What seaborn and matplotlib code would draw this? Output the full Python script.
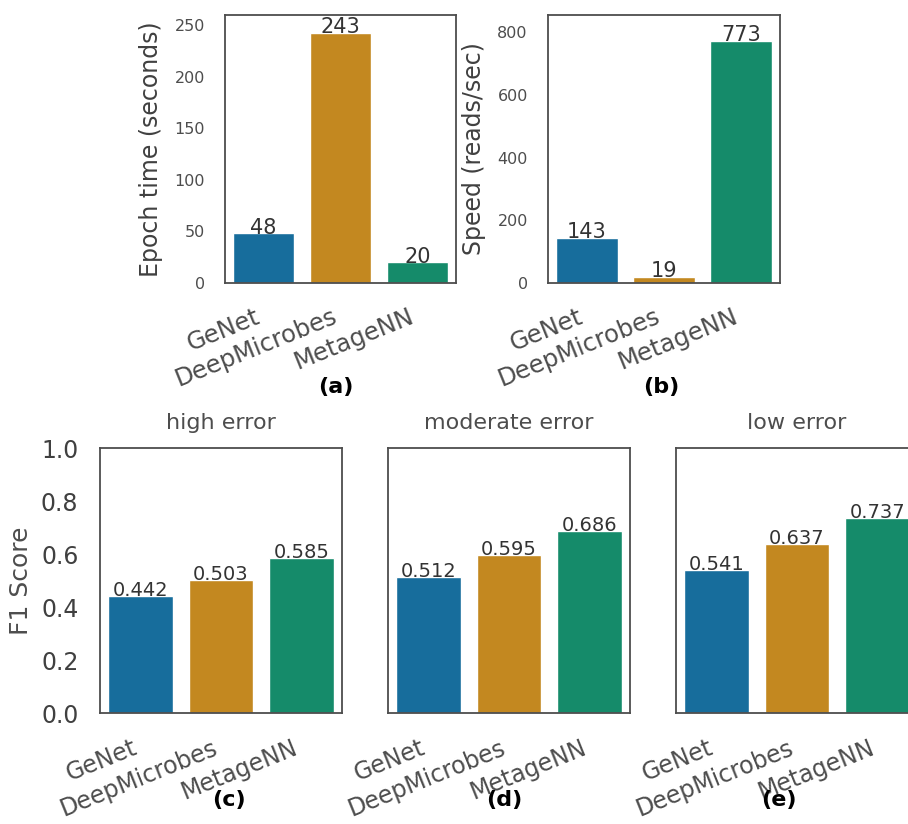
import matplotlib
matplotlib.use("Agg")
import matplotlib.pyplot as plt
import seaborn as sb
import pandas as pd

# DATA #
models = ["GeNet", "DeepMicrobes", "MetageNN"]
epoch_time = [48, 243, 20]
speed = [143, 19, 773]
f1_high = [0.442, 0.503, 0.585]
f1_moderate = [0.512, 0.595, 0.686]
f1_low = [0.541, 0.637, 0.737]
error_titles = ["high error", "moderate error", "low error"]
panel_labels = ["(a)", "(b)", "(c)", "(d)", "(e)"]

sb.set_style("white")
plt.rcParams["font.family"] = ["DejaVu Sans"]
palette = sb.color_palette("colorblind", 3)

fig = plt.figure(figsize=(9.08, 8.24), dpi=100)

# axes placement in figure fractions #
top_axes = [
    fig.add_axes([0.2478, 0.6566, 0.2544, 0.3252]),
    fig.add_axes([0.6035, 0.6566, 0.2555, 0.3252]),
]
bot_axes = [
    fig.add_axes([0.1101, 0.1347, 0.2665, 0.3216]),
]
bot_axes.append(fig.add_axes([0.4273, 0.1347, 0.2665, 0.3216], sharey=bot_axes[0]))
bot_axes.append(fig.add_axes([0.7445, 0.1347, 0.2665, 0.3216], sharey=bot_axes[0]))


def draw_bars(ax, values, fmt, label_size):
    df = pd.DataFrame({"Model": models, "Value": values})
    sb.barplot(x="Model", y="Value", hue="Model", data=df, palette=palette,
               legend=False, ax=ax)
    for c in ax.containers:
        ax.bar_label(c, fmt=fmt, padding=-3, fontsize=label_size, color=".2")
    for s in ax.spines.values():
        s.set_color(".3")
        s.set_linewidth(1.3)
    plt.setp(ax.get_xticklabels(), rotation=22, ha="right")


# TOP ROW #
top_data = [epoch_time, speed]
top_ylabels = ["Epoch time (seconds)", "Speed (reads/sec)"]
top_ylims = [260, 855]
top_ticks = [[0, 50, 100, 150, 200, 250], [0, 200, 400, 600, 800]]
top_label_x = [0.48, 0.49]
for i, ax in enumerate(top_axes):
    draw_bars(ax, top_data[i], "%d", 15)
    ax.set_ylim(0, top_ylims[i])
    ax.set_yticks(top_ticks[i])
    ax.set_xlabel("")
    ax.set_ylabel(top_ylabels[i], fontsize=17, color=".25", labelpad=8)
    ax.text(top_label_x[i], -0.388, panel_labels[i], transform=ax.transAxes,
            ha="center", va="center", fontsize=16, fontweight="bold", color="black")
    ax.tick_params(axis="y", labelsize=11.5, pad=11, labelcolor=".3")
    ax.tick_params(axis="x", labelsize=17.5, pad=12, labelcolor=".3")

# BOTTOM ROW #
bot_data = [f1_high, f1_moderate, f1_low]
bot_label_x = [0.533, 0.48, 0.425]
for i, ax in enumerate(bot_axes):
    draw_bars(ax, bot_data[i], "%.3f", 14)
    ax.set_ylim(0, 1.0)
    ax.set_yticks([0.0, 0.2, 0.4, 0.6, 0.8, 1.0])
    ax.set_title(error_titles[i], fontsize=16, color=".3", pad=14)
    ax.set_xlabel("")
    ax.text(bot_label_x[i], -0.328, panel_labels[i + 2], transform=ax.transAxes,
            ha="center", va="center", fontsize=16, fontweight="bold", color="black")
    ax.tick_params(axis="x", labelsize=17, pad=13, labelcolor=".3")
    if i == 0:
        ax.set_ylabel("F1 Score", fontsize=18, color=".3", labelpad=6)
        ax.tick_params(axis="y", labelsize=17, pad=12, labelcolor=".25")
    else:
        ax.set_ylabel("")
        ax.tick_params(axis="y", labelleft=False)

plt.savefig("out.png", dpi=100)
